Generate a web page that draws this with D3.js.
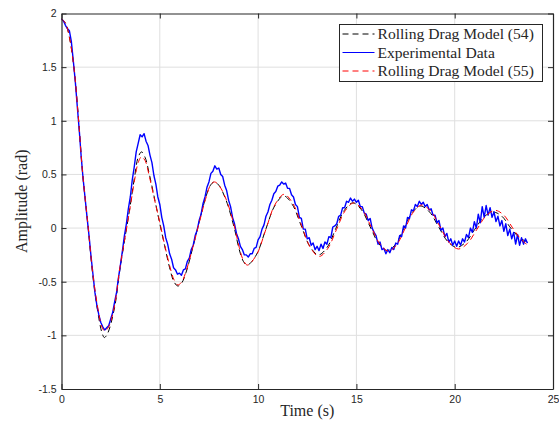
<!DOCTYPE html>
<html>
<head>
<meta charset="utf-8">
<script src="https://cdn.jsdelivr.net/npm/d3@7"></script>
<style>
  body { margin: 0; background: #fff; }
  svg { display: block; }
</style>
</head>
<body>
<svg id="chart" width="559" height="425"></svg>
<script>
// tick values
const timeTicks = [0, 5, 10, 15, 20, 25];
const ampTicks = [-1.5, -1, -0.5, 0, 0.5, 1, 1.5, 2];

// Rolling Drag Model (54) -- [time, amplitude]
const model54 = [
  [0, 1.95], [0.2, 1.91], [0.4, 1.78], [0.63, 1.5], [0.85, 1.05], [1.07, 0.52],
  [1.36, 0.0], [1.61, -0.47], [1.9, -0.84], [2.05, -0.97], [2.18, -1.02], [2.35, -0.98],
  [2.7, -0.74], [2.96, -0.4], [3.22, -0.1], [3.47, 0.18], [3.72, 0.48], [3.9, 0.66],
  [4.07, 0.71], [4.25, 0.66], [4.47, 0.5], [4.75, 0.26], [4.99, 0.05], [5.24, -0.16],
  [5.5, -0.37], [5.72, -0.5], [5.92, -0.54], [6.12, -0.51], [6.34, -0.41], [6.68, -0.18],
  [7.02, 0.07], [7.36, 0.3], [7.58, 0.4], [7.77, 0.43], [8.0, 0.4], [8.37, 0.26],
  [8.79, 0.0], [9.04, -0.2], [9.25, -0.31], [9.45, -0.345], [9.91, -0.25], [10.375, -0.02],
  [10.84, 0.205], [11.3, 0.3], [11.74, 0.22], [12.185, 0.025], [12.63, -0.17], [13.07, -0.25],
  [13.51, -0.18], [13.945, -0.008], [14.38, 0.164], [14.82, 0.235], [15.26, 0.17], [15.7, 0.012],
  [16.14, -0.145], [16.58, -0.21], [17.0, -0.15], [17.42, 0.0], [17.84, 0.145], [18.26, 0.205],
  [18.72, 0.15], [19.18, 0.012], [19.64, -0.124], [20.1, -0.18], [20.56, -0.132], [21.01, -0.015],
  [21.47, 0.1], [21.93, 0.15], [22.4, 0.11], [22.85, 0.0], [23.3, -0.09], [23.65, -0.125]
];

// Rolling Drag Model (55) -- [time, amplitude]
const model55 = [
  [0, 1.95], [0.2, 1.91], [0.4, 1.78], [0.63, 1.5], [0.85, 1.05], [1.07, 0.52],
  [1.36, 0.0], [1.61, -0.45], [1.9, -0.8], [2.05, -0.92], [2.2, -0.96], [2.4, -0.92],
  [2.7, -0.72], [2.96, -0.38], [3.22, -0.1], [3.47, 0.17], [3.72, 0.45], [3.9, 0.61],
  [4.07, 0.665], [4.25, 0.63], [4.47, 0.48], [4.75, 0.25], [4.99, 0.06], [5.24, -0.15],
  [5.5, -0.35], [5.72, -0.48], [5.92, -0.53], [6.12, -0.5], [6.34, -0.4], [6.68, -0.18],
  [7.02, 0.06], [7.36, 0.29], [7.58, 0.4], [7.78, 0.43], [8.0, 0.4], [8.37, 0.27],
  [8.79, 0.02], [9.04, -0.18], [9.25, -0.3], [9.46, -0.345], [9.925, -0.248], [10.39, -0.015],
  [10.855, 0.218], [11.32, 0.315], [11.765, 0.23], [12.21, 0.025], [12.655, -0.18], [13.1, -0.265],
  [13.54, -0.192], [13.985, -0.015], [14.43, 0.162], [14.87, 0.235], [15.31, 0.169], [15.755, 0.01],
  [16.2, -0.149], [16.64, -0.215], [17.06, -0.152], [17.485, 0.0], [17.91, 0.152], [18.33, 0.215],
  [18.795, 0.155], [19.26, 0.01], [19.725, -0.135], [20.19, -0.195], [20.655, -0.142], [21.12, -0.015],
  [21.585, 0.112], [22.05, 0.165], [22.5, 0.12], [22.95, 0.0], [23.35, -0.1], [23.65, -0.15]
];

// Experimental data, sampled every 0.1 s from t = 0
const expStart = 0;
const expStep = 0.1;
const expData = [
  1.95, 1.93, 1.89, 1.86, 1.84, 1.74, 1.56, 1.37, 1.14, 0.92,
  0.67, 0.46, 0.28, 0.10, -0.07, -0.26, -0.43, -0.60, -0.72, -0.81,
  -0.88, -0.92, -0.95, -0.93, -0.91, -0.85, -0.79, -0.69, -0.60, -0.46,
  -0.34, -0.21, -0.07, 0.04, 0.18, 0.29, 0.45, 0.57, 0.71, 0.79,
  0.87, 0.85, 0.88, 0.81, 0.77, 0.68, 0.61, 0.49, 0.41, 0.29,
  0.22, 0.10, 0.02, -0.09, -0.15, -0.24, -0.29, -0.37, -0.39, -0.43,
  -0.42, -0.44, -0.39, -0.38, -0.31, -0.28, -0.20, -0.16, -0.07, -0.02,
  0.07, 0.13, 0.23, 0.29, 0.38, 0.43, 0.51, 0.53, 0.58, 0.55,
  0.56, 0.50, 0.48, 0.40, 0.35, 0.26, 0.20, 0.10, 0.04, -0.05,
  -0.10, -0.17, -0.20, -0.25, -0.25, -0.27, -0.24, -0.24, -0.19, -0.18,
  -0.11, -0.08, -0.01, 0.03, 0.11, 0.15, 0.22, 0.26, 0.32, 0.34,
  0.39, 0.40, 0.43, 0.41, 0.42, 0.37, 0.37, 0.31, 0.29, 0.22,
  0.20, 0.10, 0.09, -0.01, -0.01, -0.10, -0.09, -0.16, -0.14, -0.20,
  -0.17, -0.21, -0.15, -0.19, -0.13, -0.15, -0.08, -0.09, 0.01, 0.02,
  0.04, 0.11, 0.12, 0.19, 0.19, 0.25, 0.24, 0.28, 0.25, 0.27,
  0.24, 0.26, 0.20, 0.20, 0.14, 0.13, 0.07, 0.09, 0.00, -0.04,
  -0.07, -0.15, -0.13, -0.20, -0.19, -0.24, -0.20, -0.23, -0.18, -0.20,
  -0.14, -0.15, -0.07, -0.08, 0.02, 0.00, 0.10, 0.09, 0.17, 0.16,
  0.22, 0.20, 0.25, 0.22, 0.24, 0.20, 0.22, 0.17, 0.18, 0.12,
  0.12, 0.05, 0.07, -0.02, 0.00, -0.08, -0.05, -0.13, -0.10, -0.16,
  -0.12, -0.17, -0.12, -0.16, -0.10, -0.13, -0.06, -0.09, 0.00, -0.04,
  0.06, 0.00, 0.13, 0.05, 0.20, 0.10, 0.21, 0.12, 0.19, 0.10,
  0.15, 0.06, 0.11, 0.02, 0.07, -0.03, 0.04, -0.07, -0.01, -0.10,
  -0.04, -0.15, -0.06, -0.16, -0.09, -0.15, -0.10, -0.14
];

const legendLabels = ["Rolling Drag Model (54)", "Experimental Data", "Rolling Drag Model (55)"];

const svg = d3.select("#chart");
const plotLeft = 61.5, plotRight = 553, plotTop = 13.5, plotBottom = 389;

const x = d3.scaleLinear().domain([0, 25]).range([plotLeft, plotRight]);
const y = d3.scaleLinear().domain([-1.5, 2]).range([plotBottom, plotTop]);

const axisColor = "#262626";

// grid
svg.append("g")
  .selectAll("line")
  .data(timeTicks.slice(1, -1))
  .join("line")
  .attr("x1", d => x(d)).attr("x2", d => x(d))
  .attr("y1", plotTop).attr("y2", plotBottom)
  .attr("stroke", "#dfdfdf").attr("stroke-width", 1);
svg.append("g")
  .selectAll("line")
  .data(ampTicks.slice(1, -1))
  .join("line")
  .attr("x1", plotLeft).attr("x2", plotRight)
  .attr("y1", d => y(d)).attr("y2", d => y(d))
  .attr("stroke", "#dfdfdf").attr("stroke-width", 1);

// series
const line = d3.line().x(d => x(d[0])).y(d => y(d[1]));
const smooth = d3.line().x(d => x(d[0])).y(d => y(d[1])).curve(d3.curveCatmullRom);
const expPoints = expData.map((v, i) => [expStart + i * expStep, v]);

svg.append("path")
  .attr("d", smooth(model54))
  .attr("fill", "none")
  .attr("stroke", "#000")
  .attr("stroke-width", 1)
  .attr("stroke-dasharray", "6,4");

svg.append("path")
  .attr("d", line(expPoints))
  .attr("fill", "none")
  .attr("stroke", "#0000ff")
  .attr("stroke-width", 1.4)
  .attr("stroke-linejoin", "round");

svg.append("path")
  .attr("d", smooth(model55))
  .attr("fill", "none")
  .attr("stroke", "#ff0000")
  .attr("stroke-width", 1)
  .attr("stroke-dasharray", "6,4");

// axes (ticks pointing inward, MATLAB style)
const fmt = d => String(d);
const axisFont = "'Liberation Sans', Arial, sans-serif";

const gx = svg.append("g")
  .attr("transform", `translate(0,${plotBottom})`)
  .call(d3.axisBottom(x).tickValues(timeTicks).tickFormat(fmt).tickSize(-5).tickSizeOuter(0).tickPadding(7));
const gxTop = svg.append("g")
  .attr("transform", `translate(0,${plotTop})`)
  .call(d3.axisTop(x).tickValues(timeTicks).tickFormat("").tickSize(-5).tickSizeOuter(0));
const gy = svg.append("g")
  .attr("transform", `translate(${plotLeft},0)`)
  .call(d3.axisLeft(y).tickValues(ampTicks).tickFormat(fmt).tickSize(-5).tickSizeOuter(0).tickPadding(5));
const gyRight = svg.append("g")
  .attr("transform", `translate(${plotRight},0)`)
  .call(d3.axisRight(y).tickValues(ampTicks).tickFormat("").tickSize(-5).tickSizeOuter(0));

[gx, gxTop, gy, gyRight].forEach(g => {
  g.select(".domain").attr("stroke", axisColor).attr("stroke-width", 1.2);
  g.selectAll(".tick line").attr("stroke", axisColor).attr("stroke-width", 1);
  g.selectAll(".tick text")
    .attr("fill", axisColor)
    .style("font-family", axisFont)
    .style("font-size", "10.5px");
});

// axis labels
const serif = "'Liberation Serif', 'Times New Roman', serif";
svg.append("text")
  .attr("x", (plotLeft + plotRight) / 2)
  .attr("y", 416)
  .attr("text-anchor", "middle")
  .style("font-family", serif)
  .style("font-size", "16px")
  .attr("fill", axisColor)
  .text("Time (s)");

svg.append("text")
  .attr("transform", `translate(27,${(plotTop + plotBottom) / 2}) rotate(-90)`)
  .attr("text-anchor", "middle")
  .style("font-family", serif)
  .style("font-size", "16px")
  .attr("fill", axisColor)
  .text("Amplitude (rad)");

// legend
const lg = svg.append("g").attr("transform", "translate(339.5,24.5)");
lg.append("rect")
  .attr("width", 203)
  .attr("height", 57)
  .attr("fill", "#fff")
  .attr("stroke", axisColor)
  .attr("stroke-width", 1);

const legendStyles = [
  { color: "#000", dash: "6,4" },
  { color: "#0000ff", dash: null },
  { color: "#ff0000", dash: "6,4" }
];

legendLabels.forEach((label, i) => {
  const cy = 9.5 + i * 18.5;
  lg.append("line")
    .attr("x1", 3).attr("x2", 35)
    .attr("y1", cy).attr("y2", cy)
    .attr("stroke", legendStyles[i].color)
    .attr("stroke-width", 1)
    .attr("stroke-dasharray", legendStyles[i].dash);
  lg.append("text")
    .attr("x", 38)
    .attr("y", cy + 5)
    .style("font-family", serif)
    .style("font-size", "15.6px")
    .attr("fill", axisColor)
    .text(label);
});
</script>
</body>
</html>
